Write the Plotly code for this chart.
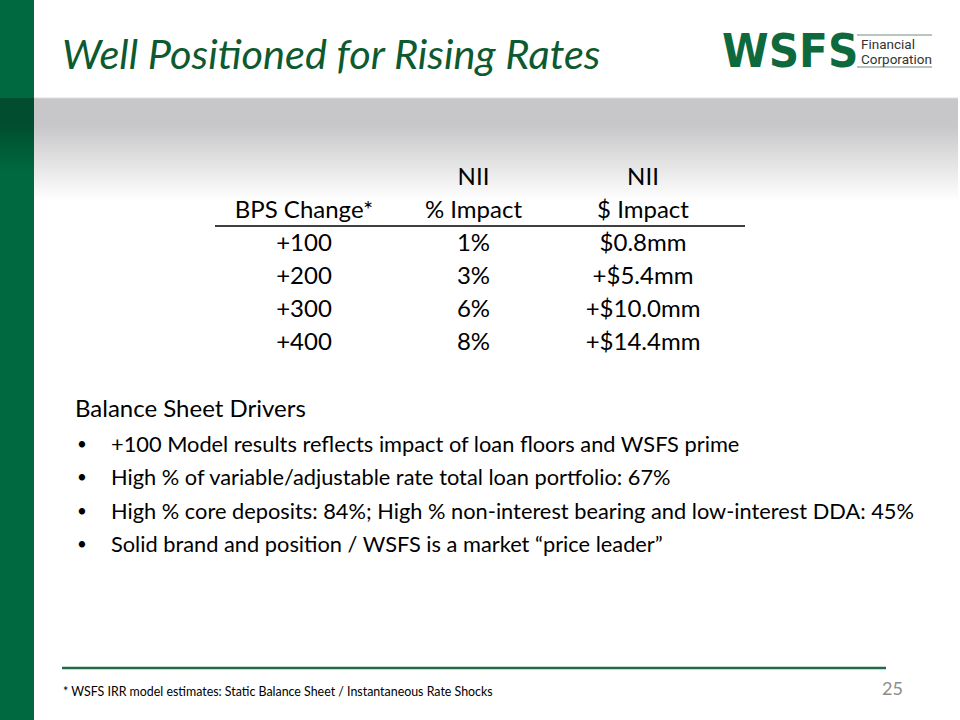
import plotly.graph_objects as go

# ---------------- data ----------------
title_text = "Well Positioned for Rising Rates"
header_top = ["", "NII", "NII"]
header_bottom = ["BPS Change*", "% Impact", "$ Impact"]
bps_change = ["+100", "+200", "+300", "+400"]
nii_pct_impact = ["1%", "3%", "6%", "8%"]
nii_dollar_impact = ["$0.8mm", "+$5.4mm", "+$10.0mm", "+$14.4mm"]
drivers_heading = "Balance Sheet Drivers"
drivers = [
    "+100 Model results reflects impact of loan floors and WSFS prime",
    "High % of variable/adjustable rate total loan portfolio: 67%",
    "High % core deposits: 84%; High % non-interest bearing and low-interest DDA: 45%",
    "Solid brand and position / WSFS is a market \u201cprice leader\u201d",
]
footnote = "* WSFS IRR model estimates: Static Balance Sheet / Instantaneous Rate Shocks"
page_number = "25"

# ---------------- layout helpers ----------------
W, H = 960, 720
GREEN = "#00693f"
DARK_GREEN = "#0d5a30"
FONT = "Lato"


def px(x):
    return x / W


def py(y):
    return 1 - y / H


shapes = []
annotations = []

# left green bar
shapes.append(dict(type="rect", xref="paper", yref="paper", x0=0, x1=px(34), y0=0, y1=1,
                   fillcolor=GREEN, line_width=0, layer="below"))

# grey gradient band and dark part of green bar (drawn as thin strips)
top, flat_end, fade_end = 98, 124, 200
step = 2
for y in range(top, fade_end, step):
    t = 0.0 if y < flat_end else (y - flat_end) / (fade_end - flat_end)
    g = int(round(199 + (255 - 199) * t))
    b = int(round(201 + (255 - 201) * t))
    shapes.append(dict(type="rect", xref="paper", yref="paper", x0=px(34), x1=px(958),
                       y0=py(y + step), y1=py(y), fillcolor=f"rgb({g},{g},{b})",
                       line_width=0, layer="below"))
for y in range(top, 172, step):
    t = 0.0 if y < 124 else min(1.0, (y - 124) / (172 - 124))
    gg = int(round(0x4e + (0x69 - 0x4e) * t))
    bb = int(round(0x2f + (0x3f - 0x2f) * t))
    shapes.append(dict(type="rect", xref="paper", yref="paper", x0=0, x1=px(34),
                       y0=py(y + step), y1=py(y), fillcolor=f"rgb(0,{gg},{bb})",
                       line_width=0, layer="below"))
shapes.append(dict(type="line", xref="paper", yref="paper", x0=px(34), x1=px(958),
                   y0=py(98), y1=py(98), line=dict(color="#dedede", width=1)))

# header underline of the table
shapes.append(dict(type="line", xref="paper", yref="paper", x0=px(215), x1=px(745),
                   y0=py(226), y1=py(226), line=dict(color="black", width=1.5)))

# footer line
shapes.append(dict(type="line", xref="paper", yref="paper", x0=px(62), x1=px(886),
                   y0=py(668), y1=py(668), line=dict(color="#1f6a48", width=2.5)))

# logo lines
shapes.append(dict(type="line", xref="paper", yref="paper", x0=px(857), x1=px(932),
                   y0=py(35), y1=py(35), line=dict(color="#6f8f7f", width=1)))
shapes.append(dict(type="line", xref="paper", yref="paper", x0=px(857), x1=px(932),
                   y0=py(67), y1=py(67), line=dict(color="#6f8f7f", width=1)))

# title
annotations.append(dict(text=f"<i>{title_text}</i>", xref="paper", yref="paper",
                        x=px(60), y=py(53), xanchor="left", yanchor="middle",
                        showarrow=False, font=dict(family=FONT, size=41.5, color=DARK_GREEN)))

# logo
annotations.append(dict(text="<b>WSFS</b>", xref="paper", yref="paper",
                        x=px(720), y=py(51), xanchor="left", yanchor="middle",
                        showarrow=False,
                        font=dict(family="DejaVu Sans Condensed", size=47, color="#0e6a3c")))
annotations.append(dict(text="Financial", xref="paper", yref="paper",
                        x=px(859), y=py(44), xanchor="left", yanchor="middle",
                        showarrow=False, font=dict(family="Roboto", size=13.5, color="#333333")))
annotations.append(dict(text="Corporation", xref="paper", yref="paper",
                        x=px(859), y=py(59), xanchor="left", yanchor="middle",
                        showarrow=False, font=dict(family="Roboto", size=13.5, color="#333333")))

# balance sheet drivers
annotations.append(dict(text=drivers_heading, xref="paper", yref="paper",
                        x=px(73), y=py(407), xanchor="left", yanchor="middle",
                        showarrow=False, font=dict(family=FONT, size=24, color="black")))
for i, line in enumerate(drivers):
    yy = 443 + 33.5 * i
    annotations.append(dict(text="\u2022", xref="paper", yref="paper",
                            x=px(75), y=py(yy), xanchor="left", yanchor="middle",
                            showarrow=False, font=dict(family=FONT, size=17, color="black")))
    annotations.append(dict(text=line, xref="paper", yref="paper",
                            x=px(109), y=py(yy), xanchor="left", yanchor="middle",
                            showarrow=False, font=dict(family=FONT, size=21.8, color="black")))

# footnote and page number
annotations.append(dict(text=footnote, xref="paper", yref="paper",
                        x=px(61), y=py(691), xanchor="left", yanchor="middle",
                        showarrow=False, font=dict(family=FONT, size=12.4, color="black")))
annotations.append(dict(text=page_number, xref="paper", yref="paper",
                        x=px(905), y=py(688), xanchor="right", yanchor="middle",
                        showarrow=False, font=dict(family=FONT, size=18, color="#8c8c8c")))

# ---------------- table as text marks on hidden axes ----------------
rows = [header_top, header_bottom] + [list(r) for r in zip(bps_change, nii_pct_impact, nii_dollar_impact)]
xs, ys, texts = [], [], []
for r, row in enumerate(rows):
    for c, val in enumerate(row):
        xs.append(c)
        ys.append(r)
        texts.append(val)

fig = go.Figure(go.Scatter(x=xs, y=ys, text=texts, mode="text",
                           textposition="middle center",
                           textfont=dict(family=FONT, size=24, color="black"),
                           hoverinfo="skip", showlegend=False))

col0_px, col_step_px = 304, 169.5
row0_px, row_step_px = 179, 33
fig.update_xaxes(range=[-col0_px / col_step_px, (W - col0_px) / col_step_px],
                 visible=False, fixedrange=True)
fig.update_yaxes(range=[(H - row0_px) / row_step_px, -row0_px / row_step_px],
                 visible=False, fixedrange=True)

fig.update_layout(width=W, height=H, margin=dict(l=0, r=0, t=0, b=0),
                  paper_bgcolor="white", plot_bgcolor="rgba(0,0,0,0)",
                  shapes=shapes, annotations=annotations, showlegend=False)

fig.write_html("out.html", config={"displayModeBar": False},
               post_script="document.body.style.margin='0';")
